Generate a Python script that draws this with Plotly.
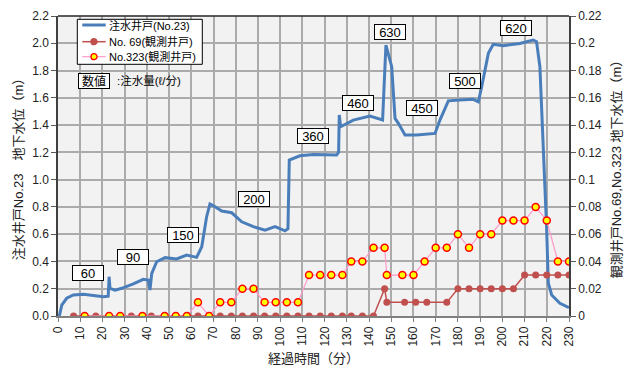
import plotly.graph_objects as go

# 注水井戸 No.23 : elapsed minutes / groundwater level (m)
t23 = [0.6, 1.7, 3.9, 6.9, 11.4, 15.9, 20.4, 22.6, 23.0, 23.4, 25.7, 28.7, 33.9, 38.4,
       40.6, 41.4, 42.2, 44.4, 48.2, 53.4, 57.9, 62.4, 64.7, 66.9, 68.4, 70.7, 73.7,
       78.2, 82.7, 87.9, 93.2, 97.7, 102.2, 103.5, 103.8, 104.1, 108.9, 114.9, 125.4,
       126.3, 126.6, 127.2, 132.9, 140.4, 146.1, 147.6, 150.2, 151.7, 153.2, 156.2,
       161.4, 167.4, 169.7, 171.9, 175.7, 180.9, 186.9, 189.2, 190.7, 193.7, 195.9,
       200.4, 207.9, 213.9, 215.4, 216.9, 218.7, 219.9, 220.7, 222.2, 225.9, 230.0]
lv23 = [0.0, 0.08, 0.13, 0.154, 0.159, 0.149, 0.142, 0.145, 0.288, 0.203, 0.19, 0.203,
        0.235, 0.269, 0.264, 0.19, 0.313, 0.398, 0.428, 0.418, 0.447, 0.43, 0.508, 0.728,
        0.821, 0.801, 0.77, 0.757, 0.691, 0.655, 0.63, 0.655, 0.625, 0.64, 1.0, 1.144,
        1.175, 1.185, 1.18, 1.2, 1.474, 1.388, 1.437, 1.466, 1.437, 1.987, 1.828, 1.449,
        1.413, 1.327, 1.327, 1.339, 1.339, 1.437, 1.578, 1.584, 1.589, 1.571, 1.681,
        1.926, 1.992, 1.982, 1.999, 2.024, 2.011, 1.828, 1.144, 0.655, 0.24, 0.154,
        0.093, 0.061]

# No.69 観測井戸
t69 = [7, 12, 17, 23, 28, 33, 38, 42, 48, 53, 58, 63, 68, 73, 78, 83, 88, 93, 98, 103,
       108, 113, 118, 123, 128, 132, 137, 142, 147, 148, 156, 161, 166, 175, 180, 185,
       190, 195, 200, 205, 210, 215, 220, 225, 230]
lv69 = [0] * 28 + [0.02, 0.01, 0.01, 0.01, 0.01, 0.01,
                   0.02, 0.02, 0.02, 0.02, 0.02, 0.02,
                   0.03, 0.03, 0.03, 0.03, 0.03]

# No.323 観測井戸
t323 = [12, 23, 28, 38, 48, 53, 58, 63, 68, 73, 78, 83, 88, 93, 98, 103, 108, 113, 118,
        123, 128, 132, 137, 142, 147, 148, 155, 160, 165, 170, 175, 180, 185, 190, 195,
        200, 205, 210, 215, 220, 225, 230]
lv323 = [0, 0, 0, 0, 0, 0, 0, 0.01, 0, 0.01, 0.01, 0.02, 0.02, 0.01, 0.01, 0.01, 0.01,
         0.03, 0.03, 0.03, 0.03, 0.04, 0.04, 0.05, 0.05, 0.03, 0.03, 0.03, 0.04, 0.05,
         0.05, 0.06, 0.05, 0.06, 0.06, 0.07, 0.07, 0.07, 0.08, 0.07, 0.04, 0.04]

# 注水量 (ℓ/分) labels and where they sit
flow = [60, 90, 150, 200, 360, 460, 630, 450, 500, 620]
flow_t = [13.7, 33.8, 56.3, 88.2, 114.7, 135.2, 149.5, 164.0, 183.4, 206.1]
flow_lv = [0.315, 0.433, 0.592, 0.858, 1.323, 1.565, 2.082, 1.523, 1.723, 2.113]

x_ticks = list(range(0, 231, 10))

FONT = "Liberation Sans, Arial, Noto Sans CJK JP, sans-serif"
GRID = "#ababab"
BLUE = "#4a7ebb"
RED = "#c0504d"
PINK = "#ff99cc"
YELLOW = "#ffff00"

# plot-area geometry (pixels) used to place the hand-built legend
ML, MR, MT, MB = 58, 55, 16, 56
W, H = 624, 372
PW, PH = W - ML - MR, H - MT - MB


def px(X):
    return (X - ML) / PW


def py(Y):
    return (H - MB - Y) / PH


fig = go.Figure()
fig.add_trace(go.Scatter(
    x=t23, y=lv23, mode="lines", name="注水井戸(No.23)",
    line=dict(color=BLUE, width=3), yaxis="y"))
fig.add_trace(go.Scatter(
    x=t69, y=lv69, mode="lines+markers", name="No. 69(観測井戸)",
    line=dict(color=RED, width=1.5),
    marker=dict(color=RED, size=7), yaxis="y2"))
fig.add_trace(go.Scatter(
    x=t323, y=lv323, mode="lines+markers", name="No.323(観測井戸)",
    line=dict(color=PINK, width=1.2),
    marker=dict(color=YELLOW, size=7, line=dict(color="#ff0000", width=1.5)),
    yaxis="y2"))

annotations = []
for v, tx, ty in zip(flow, flow_t, flow_lv):
    annotations.append(dict(
        x=tx, y=ty, xref="x", yref="y", text=str(v), showarrow=False,
        xanchor="center", yanchor="middle",
        font=dict(size=13, color="black", family=FONT),
        bgcolor="white", bordercolor="black", borderwidth=1, borderpad=0,
        width=30, height=14))

annotations.append(dict(
    x=px(94), y=py(81), xref="paper", yref="paper", text="数値", showarrow=False,
    xanchor="center", yanchor="middle",
    font=dict(size=12, color="black", family=FONT),
    bgcolor="white", bordercolor="black", borderwidth=1, borderpad=0,
    width=30, height=14))
annotations.append(dict(
    x=px(115), y=py(81), xref="paper", yref="paper", text=":注水量(ℓ/分)",
    showarrow=False, xanchor="left", yanchor="middle",
    font=dict(size=11.5, color="black", family=FONT)))

shapes = []
# black frame line along the top of the plot area
shapes.append(dict(type="line", xref="paper", yref="paper", x0=0, x1=1, y0=1, y1=1,
                   line=dict(color="#262626", width=1.5), layer="above"))

# legend box
shapes.append(dict(type="rect", xref="paper", yref="paper",
                   x0=px(77.3), x1=px(202.3), y0=py(64.3), y1=py(19.3),
                   fillcolor="white", line=dict(color="black", width=1), layer="above"))
legend_rows = [
    ("注水井戸(No.23)", 25.0, BLUE, 3, None),
    ("No. 69(観測井戸)", 41.7, RED, 1.5, (RED, RED)),
    ("No.323(観測井戸)", 56.7, PINK, 1.2, (YELLOW, "#ff0000")),
]
for label, Y, col, lw, mk in legend_rows:
    shapes.append(dict(type="line", xref="paper", yref="paper",
                       x0=px(82.3), x1=px(105.7), y0=py(Y), y1=py(Y),
                       line=dict(color=col, width=lw), layer="above"))
    if mk is not None:
        shapes.append(dict(type="circle", xref="paper", yref="paper",
                           xsizemode="pixel", ysizemode="pixel",
                           xanchor=px(94), yanchor=py(Y),
                           x0=-3, x1=3, y0=-3, y1=3,
                           fillcolor=mk[0], line=dict(color=mk[1], width=1.3),
                           layer="above"))
    annotations.append(dict(
        x=px(106.5), y=py(Y), xref="paper", yref="paper", text=label,
        showarrow=False, xanchor="left", yanchor="middle",
        font=dict(size=11, color="black", family=FONT)))

fig.update_layout(
    width=W, height=H,
    margin=dict(l=ML, r=MR, t=MT, b=MB, autoexpand=False),
    paper_bgcolor="white", plot_bgcolor="#f2f2f2",
    font=dict(family=FONT, size=12, color="#222222"),
    showlegend=False,
    xaxis=dict(
        range=[0, 230], tickmode="array", tickvals=x_ticks,
        ticktext=[str(v) for v in x_ticks], tickangle=-90,
        showgrid=True, gridcolor=GRID, gridwidth=1.5,
        showline=True, linecolor="#808080", linewidth=1.5,
        ticks="outside", ticklen=4, tickcolor="#808080",
        zeroline=False, automargin=False,
        title=dict(text="経過時間（分）", font=dict(size=13, family=FONT), standoff=8),
        tickfont=dict(size=12)),
    yaxis=dict(
        range=[0, 2.2], dtick=0.2, tick0=0, tickformat=".1f",
        showgrid=True, gridcolor=GRID, gridwidth=1.5,
        showline=True, linecolor="#404040", linewidth=1.5,
        ticks="outside", ticklen=5, tickcolor="#595959",
        zeroline=False, automargin=False,
        title=dict(text="注水井戸No.23　地下水位（m）", font=dict(size=13, family=FONT),
                   standoff=6),
        tickfont=dict(size=12)),
    yaxis2=dict(
        range=[0, 0.22], dtick=0.02, tick0=0, overlaying="y", side="right",
        showgrid=False, showline=True, linecolor="#404040", linewidth=1.5,
        ticks="outside", ticklen=5, tickcolor="#595959",
        zeroline=False, automargin=False,
        title=dict(text="観測井戸No.69,No.323 地下水位（m）",
                   font=dict(size=13, family=FONT), standoff=14),
        tickfont=dict(size=12)),
    annotations=annotations,
    shapes=shapes,
)

fig.write_html("out.html")
